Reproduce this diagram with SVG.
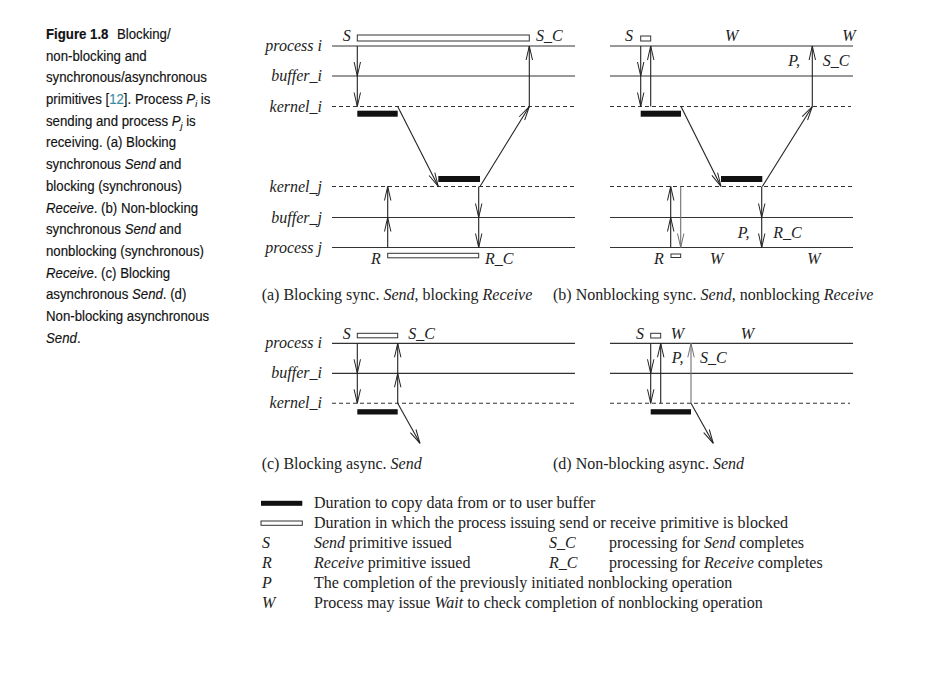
<svg xmlns="http://www.w3.org/2000/svg" width="939" height="692" viewBox="0 0 939 692">
<style>
  .bg{fill:#ffffff}
  .ln{stroke:#333;stroke-width:1.2;fill:none}
  .dl{stroke:#333;stroke-width:1.1;fill:none;stroke-dasharray:4 3}
  .ar{stroke:#222;stroke-width:1.1;fill:none;marker-end:url(#ah)}
  .arg{stroke:#707070;stroke-width:1.1;fill:none;marker-end:url(#ahg)}
  .blk{fill:#111}
  .hol{fill:#fff;stroke:#333;stroke-width:1}
  .t{font-family:"Liberation Serif","Times New Roman",serif;font-size:16px;fill:#222}
  .it{font-style:italic}
  .lab{font-family:"Liberation Serif","Times New Roman",serif;font-size:16px;font-style:italic;fill:#222;text-anchor:end}
  .cap{font-family:"Liberation Sans",Arial,sans-serif;font-size:14px;fill:#111;stroke:#111;stroke-width:0.15}
</style>
<defs>
  <marker id="ah" viewBox="-15 -4 16 8" refX="0" refY="0" markerWidth="16" markerHeight="8" markerUnits="userSpaceOnUse" orient="auto">
    <path d="M-14,-3.2 L0,0 L-14,3.2" fill="none" stroke="#222" stroke-width="1"/>
  </marker>
  <marker id="ahg" viewBox="-15 -4 16 8" refX="0" refY="0" markerWidth="16" markerHeight="8" markerUnits="userSpaceOnUse" orient="auto">
    <path d="M-14,-3.2 L0,0 L-14,3.2" fill="none" stroke="#707070" stroke-width="1"/>
  </marker>
</defs>
<rect class="bg" x="0" y="0" width="939" height="692"/>

<!-- Figure caption -->
<g id="caption" class="cap" transform="translate(46 0) scale(0.945 1)">
  <text x="0" y="39"><tspan font-weight="bold">Figure 1.8</tspan></text>
  <text x="75.1" y="39">Blocking/</text>
  <text x="0" y="60.7">non-blocking and</text>
  <text x="0" y="82.4">synchronous/asynchronous</text>
  <text x="0" y="104.1">primitives [<tspan fill="#3a8aa0" stroke="#3a8aa0">12</tspan>]. Process <tspan font-style="italic">P</tspan><tspan font-style="italic" font-size="9.5" dy="3">i</tspan><tspan dy="-3"> is</tspan></text>
  <text x="0" y="125.8">sending and process <tspan font-style="italic">P</tspan><tspan font-style="italic" font-size="9.5" dy="3">j</tspan><tspan dy="-3"> is</tspan></text>
  <text x="0" y="147.5">receiving. (a) Blocking</text>
  <text x="0" y="169.2">synchronous <tspan font-style="italic">Send</tspan> and</text>
  <text x="0" y="190.9">blocking (synchronous)</text>
  <text x="0" y="212.6"><tspan font-style="italic">Receive</tspan>. (b) Non-blocking</text>
  <text x="0" y="234.3">synchronous <tspan font-style="italic">Send</tspan> and</text>
  <text x="0" y="256">nonblocking (synchronous)</text>
  <text x="0" y="277.7"><tspan font-style="italic">Receive</tspan>. (c) Blocking</text>
  <text x="0" y="299.4">asynchronous <tspan font-style="italic">Send</tspan>. (d)</text>
  <text x="0" y="321.1">Non-blocking asynchronous</text>
  <text x="0" y="342.8"><tspan font-style="italic">Send</tspan>.</text>
</g>

<!-- Panel (a) -->
<g id="panel-a">
  <line class="ln" x1="332" y1="46" x2="575" y2="46"/>
  <line class="ln" x1="332" y1="76" x2="575" y2="76"/>
  <line class="dl" x1="332" y1="106.5" x2="575" y2="106.5"/>
  <line class="dl" x1="332" y1="186.5" x2="575" y2="186.5"/>
  <line class="ln" x1="332" y1="217.5" x2="575" y2="217.5"/>
  <line class="ln" x1="332" y1="247.5" x2="575" y2="247.5"/>
  <text class="lab" x="322" y="51">process i</text>
  <text class="lab" x="322" y="81">buffer_i</text>
  <text class="lab" x="322" y="111.5">kernel_i</text>
  <text class="lab" x="322" y="191.5">kernel_j</text>
  <text class="lab" x="322" y="222.5">buffer_j</text>
  <text class="lab" x="322" y="252.5">process j</text>
  <rect class="hol" x="357.3" y="35" width="172" height="6"/>
  <rect class="blk" x="357.3" y="110.7" width="40.4" height="6"/>
  <rect class="blk" x="438.3" y="176" width="41.7" height="6"/>
  <rect class="hol" x="387.7" y="253.3" width="91" height="4.5"/>
  <text class="t it" x="346.7" y="41" text-anchor="middle">S</text>
  <text class="t it" x="536" y="41">S_C</text>
  <text class="t it" x="376" y="264" text-anchor="middle">R</text>
  <text class="t it" x="485" y="264">R_C</text>
  <text class="t" x="261.7" y="300">(a) Blocking sync. <tspan class="it">Send</tspan>, blocking <tspan class="it">Receive</tspan></text>
</g>

<!-- Panel (b) -->
<g id="panel-b">
  <line class="ln" x1="610" y1="46" x2="853" y2="46"/>
  <line class="ln" x1="610" y1="76" x2="853" y2="76"/>
  <line class="dl" x1="610" y1="106.5" x2="851" y2="106.5"/>
  <line class="dl" x1="610" y1="186.5" x2="853" y2="186.5"/>
  <line class="ln" x1="610" y1="217.5" x2="853" y2="217.5"/>
  <line class="ln" x1="610" y1="247.5" x2="853" y2="247.5"/>
  <rect class="hol" x="640.7" y="36" width="10" height="5"/>
  <rect class="blk" x="640.7" y="110.7" width="40.3" height="6"/>
  <rect class="blk" x="721" y="176" width="41.3" height="6"/>
  <rect class="hol" x="671" y="254" width="9.7" height="3.5"/>
  <text class="t it" x="629" y="41" text-anchor="middle">S</text>
  <text class="t it" x="731.7" y="41" text-anchor="middle">W</text>
  <text class="t it" x="849" y="41" text-anchor="middle">W</text>
  <text class="t it" x="788.3" y="66">P,</text>
  <text class="t it" x="822.7" y="66">S_C</text>
  <text class="t it" x="737.7" y="238">P,</text>
  <text class="t it" x="773.3" y="238">R_C</text>
  <text class="t it" x="659" y="264" text-anchor="middle">R</text>
  <text class="t it" x="716.7" y="264" text-anchor="middle">W</text>
  <text class="t it" x="814" y="264" text-anchor="middle">W</text>
  <text class="t" x="553" y="300">(b) Nonblocking sync. <tspan class="it">Send</tspan>, nonblocking <tspan class="it">Receive</tspan></text>
</g>

<!-- Panel (c) -->
<g id="panel-c">
  <line class="ln" x1="332" y1="343.3" x2="575" y2="343.3"/>
  <line class="ln" x1="332" y1="373.3" x2="575" y2="373.3"/>
  <line class="dl" x1="332" y1="403.3" x2="575" y2="403.3"/>
  <text class="lab" x="322" y="348.3">process i</text>
  <text class="lab" x="322" y="378.3">buffer_i</text>
  <text class="lab" x="322" y="408.3">kernel_i</text>
  <rect class="hol" x="357.3" y="333.3" width="40.4" height="4.5"/>
  <rect class="blk" x="357.3" y="409.2" width="40.4" height="5.3"/>
  <text class="t it" x="346.7" y="339" text-anchor="middle">S</text>
  <text class="t it" x="408.3" y="339">S_C</text>
  <text class="t" x="261.7" y="468.5">(c) Blocking async. <tspan class="it">Send</tspan></text>
</g>

<!-- Panel (d) -->
<g id="panel-d">
  <line class="ln" x1="610" y1="343.3" x2="853" y2="343.3"/>
  <line class="ln" x1="610" y1="373.3" x2="853" y2="373.3"/>
  <line class="dl" x1="610" y1="403.3" x2="850" y2="403.3"/>
  <rect class="hol" x="650.7" y="333.3" width="10" height="4.7"/>
  <rect class="blk" x="650.7" y="409.2" width="40.3" height="5.3"/>
  <text class="t it" x="640" y="339" text-anchor="middle">S</text>
  <text class="t it" x="677.3" y="339" text-anchor="middle">W</text>
  <text class="t it" x="747.3" y="339" text-anchor="middle">W</text>
  <text class="t it" x="671.7" y="363.3">P,</text>
  <text class="t it" x="700" y="363.3">S_C</text>
  <text class="t" x="553" y="468.5">(d) Non-blocking async. <tspan class="it">Send</tspan></text>
</g>

<!-- Connectors -->
<g id="connectors">
  <!-- (a) -->
  <line class="ar" x1="357.3" y1="46" x2="357.3" y2="76"/>
  <line class="ar" x1="357.3" y1="76" x2="357.3" y2="106.5"/>
  <line class="ar" x1="397.7" y1="106.5" x2="438.3" y2="186.5"/>
  <line class="ar" x1="480" y1="186.5" x2="529.3" y2="106.5"/>
  <line class="ar" x1="529.3" y1="106.5" x2="529.3" y2="46"/>
  <line class="ar" x1="387.7" y1="247.5" x2="387.7" y2="217.5"/>
  <line class="ar" x1="387.7" y1="217.5" x2="387.7" y2="186.5"/>
  <line class="ar" x1="478.7" y1="186.5" x2="478.7" y2="217.5"/>
  <line class="ar" x1="478.7" y1="217.5" x2="478.7" y2="247.5"/>
  <!-- (b) -->
  <line class="ar" x1="640.7" y1="46" x2="640.7" y2="76"/>
  <line class="ar" x1="640.7" y1="76" x2="640.7" y2="106.5"/>
  <line class="ar" x1="650.7" y1="106.5" x2="650.7" y2="46"/>
  <line class="ar" x1="681" y1="106.5" x2="721" y2="186.5"/>
  <line class="ar" x1="762.3" y1="186.5" x2="812.3" y2="106.5"/>
  <line class="ar" x1="812.3" y1="106.5" x2="812.3" y2="46"/>
  <line class="ar" x1="670.7" y1="247.5" x2="670.7" y2="217.5"/>
  <line class="ar" x1="670.7" y1="217.5" x2="670.7" y2="186.5"/>
  <line class="arg" x1="680.7" y1="186.5" x2="680.7" y2="247.5"/>
  <line class="ar" x1="761.7" y1="186.5" x2="761.7" y2="217.5"/>
  <line class="ar" x1="761.7" y1="217.5" x2="761.7" y2="247.5"/>
  <!-- (c) -->
  <line class="ar" x1="357.3" y1="343.3" x2="357.3" y2="373.3"/>
  <line class="ar" x1="357.3" y1="373.3" x2="357.3" y2="403.3"/>
  <line class="ar" x1="397.7" y1="403.3" x2="397.7" y2="373.3"/>
  <line class="ar" x1="397.7" y1="373.3" x2="397.7" y2="343.3"/>
  <line class="ar" x1="397.7" y1="403.3" x2="420" y2="443.3"/>
  <!-- (d) -->
  <line class="ar" x1="650.7" y1="343.3" x2="650.7" y2="373.3"/>
  <line class="ar" x1="650.7" y1="373.3" x2="650.7" y2="403.3"/>
  <line class="ar" x1="660.7" y1="403.3" x2="660.7" y2="343.3"/>
  <line class="arg" x1="691" y1="403.3" x2="691" y2="343.3"/>
  <line class="ar" x1="691" y1="403.3" x2="713.3" y2="443.3"/>
</g>

<!-- Legend -->
<g id="legend">
  <rect class="blk" x="261" y="500.8" width="41.3" height="5"/>
  <text class="t" x="314" y="508.3">Duration to copy data from or to user buffer</text>
  <rect class="hol" x="261" y="521" width="41.3" height="4.3"/>
  <text class="t" x="314" y="528">Duration in which the process issuing send or receive primitive is blocked</text>
  <text class="t it" x="262" y="548.3">S</text>
  <text class="t" x="314" y="548.3"><tspan class="it">Send</tspan> primitive issued</text>
  <text class="t it" x="549" y="548.3">S_C</text>
  <text class="t" x="609" y="548.3">processing for <tspan class="it">Send</tspan> completes</text>
  <text class="t it" x="262" y="568.3">R</text>
  <text class="t" x="314" y="568.3"><tspan class="it">Receive</tspan> primitive issued</text>
  <text class="t it" x="549" y="568.3">R_C</text>
  <text class="t" x="609" y="568.3">processing for <tspan class="it">Receive</tspan> completes</text>
  <text class="t it" x="262" y="588.3">P</text>
  <text class="t" x="314" y="588.3">The completion of the previously initiated nonblocking operation</text>
  <text class="t it" x="262" y="608.3">W</text>
  <text class="t" x="314" y="608.3">Process may issue <tspan class="it">Wait</tspan> to check completion of nonblocking operation</text>
</g>
</svg>
